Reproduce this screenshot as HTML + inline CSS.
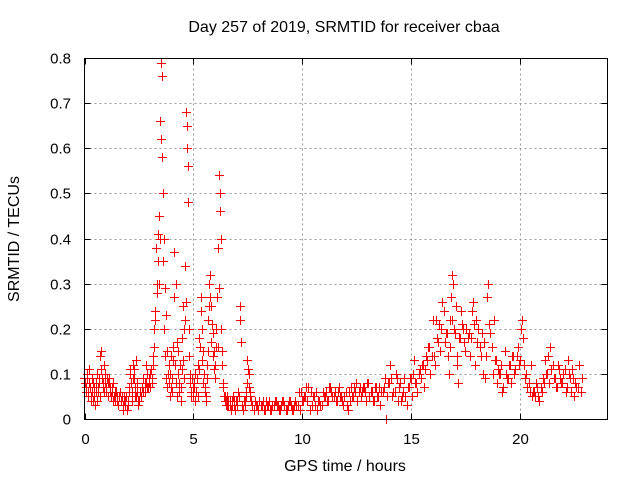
<!DOCTYPE html>
<html><head><meta charset="utf-8"><style>
body{margin:0;background:#fff;}
svg{display:block;font-family:"Liberation Sans",sans-serif;}
</style></head><body>
<svg id="chart" width="640" height="480">
<rect width="640" height="480" fill="#fff"/>
<text x="344" y="32" font-size="16" text-anchor="middle">Day 257 of 2019, SRMTID for receiver cbaa</text>
<text x="345" y="471" font-size="16" text-anchor="middle">GPS time / hours</text>
<text transform="translate(19,239) rotate(-90)" font-size="16" text-anchor="middle">SRMTID / TECUs</text>
<g id="grid" shape-rendering="crispEdges"></g>
<g id="ticks"></g>
<g id="points" shape-rendering="crispEdges"></g>
<rect x="84.5" y="58.5" width="523" height="361" fill="none" stroke="#000" stroke-width="1" shape-rendering="crispEdges"/>
</svg>
<script>
const xTicks=[0,5,10,15,20];
const yTicks=[0,0.1,0.2,0.3,0.4,0.5,0.6,0.7,0.8];
const yTickLabels=["0","0.1","0.2","0.3","0.4","0.5","0.6","0.7","0.8"];
const times=[0,.05,.1,.15,.2,.25,.3,.35,.4,.45,.5,.55,.6,.65,.7,.75,.8,.85,.9,.95,
1,1.05,1.1,1.15,1.2,1.3,1.35,1.4,1.5,1.55,1.6,1.7,1.8,1.85,1.9,2,
2.05,2.1,2.15,2.2,2.25,2.3,2.35,2.4,2.45,2.5,2.6,2.65,2.7,2.8,2.85,2.9,3,
3.05,3.1,3.15,3.2,3.25,3.3,3.35,3.4,3.45,3.5,3.52,3.55,3.57,3.6,3.62,3.65,3.7,3.75,3.8,3.85,3.9,3.95,4,
4.05,4.1,4.15,4.2,4.25,4.3,4.35,4.4,4.45,4.5,4.55,4.6,4.65,4.7,4.72,4.74,4.76,4.78,4.8,4.85,4.9,4.95,
5,5.05,5.1,5.15,5.2,5.25,5.3,5.35,5.4,5.45,5.5,5.55,5.6,5.65,5.7,5.75,5.8,5.85,5.9,5.95,
6,6.05,6.1,6.15,6.2,6.22,6.25,6.28,6.3,6.35,6.4,6.45,6.5,6.55,6.6,6.7,6.8,6.9,7,
7.1,7.15,7.18,7.2,7.25,7.3,7.4,7.45,7.5,7.55,7.6,7.7,7.8,7.9,8,
8.1,8.2,8.3,8.4,8.5,8.6,8.7,8.8,8.9,9,9.1,9.2,9.3,9.4,9.5,9.6,9.7,9.8,9.9,10,
10.1,10.2,10.3,10.4,10.5,10.6,10.7,10.8,10.9,11,11.1,11.2,11.3,11.4,11.5,11.6,11.7,11.8,11.9,12,
12.1,12.2,12.3,12.4,12.5,12.6,12.7,12.8,12.9,13,13.1,13.2,13.3,13.4,13.5,13.6,13.7,13.8,13.85,13.9,14,
14.05,14.1,14.2,14.3,14.4,14.5,14.6,14.7,14.8,14.9,15,
15.1,15.15,15.2,15.3,15.4,15.5,15.6,15.7,15.8,15.9,16,
16.05,16.1,16.2,16.3,16.35,16.4,16.5,16.55,16.6,16.7,16.75,16.8,16.85,16.9,16.95,17,
17.05,17.1,17.15,17.2,17.3,17.4,17.5,17.6,17.7,17.8,17.85,17.9,18,
18.05,18.1,18.2,18.3,18.4,18.5,18.55,18.6,18.7,18.8,18.9,19,
19.1,19.2,19.3,19.4,19.5,19.6,19.7,19.8,19.9,20,
20.05,20.1,20.15,20.2,20.3,20.4,20.5,20.6,20.7,20.8,20.9,21,
21.1,21.2,21.3,21.4,21.5,21.6,21.7,21.8,21.9,22,
22.1,22.2,22.3,22.4,22.5,22.6,22.7,22.8,22.85];
const srmtid=[.09,.08,.07,.10,.06,.11,.05,.09,.04,.07,.03,.08,.10,.06,.09,.14,.15,.08,.06,.10,
.07,.09,.05,.08,.06,.07,.04,.06,.05,.03,.05,.04,.02,.05,.04,.03,
.06,.11,.08,.04,.12,.09,.05,.13,.06,.04,.05,.07,.06,.08,.12,.07,.08,
.10,.09,.14,.20,.24,.38,.30,.41,.45,.66,.62,.79,.76,.58,.50,.40,.29,.23,.15,.10,.12,.05,.14,
.09,.13,.37,.30,.17,.10,.06,.12,.04,.18,.25,.20,.34,.68,.65,.60,.56,.48,.20,.08,.06,.09,
.05,.07,.10,.06,.09,.12,.18,.27,.20,.15,.10,.07,.05,.12,.22,.30,.32,.25,.19,.15,
.12,.16,.27,.38,.54,.50,.46,.40,.20,.15,.07,.05,.04,.03,.04,.03,.04,.03,.03,
.05,.25,.22,.17,.03,.02,.04,.06,.13,.10,.06,.03,.02,.03,.02,
.03,.04,.02,.03,.04,.02,.03,.04,.03,.02,.04,.03,.02,.04,.03,.02,.04,.03,.02,.04,
.05,.07,.07,.06,.05,.03,.02,.04,.03,.05,.06,.04,.07,.05,.06,.04,.07,.05,.03,.06,
.02,.04,.05,.07,.08,.06,.05,.07,.06,.08,.05,.06,.04,.07,.05,.03,.06,.09,.00,.05,.08,
.12,.09,.06,.10,.04,.08,.05,.09,.03,.07,.09,
.10,.13,.08,.06,.11,.12,.07,.14,.16,.10,.22,
.14,.12,.18,.21,.15,.20,.24,.17,.19,.14,.10,.22,.27,.32,.30,.20,
.25,.12,.08,.18,.24,.20,.15,.18,.14,.24,.26,.21,.22,
.17,.20,.14,.10,.09,.27,.30,.21,.16,.22,.13,.11,
.10,.06,.15,.09,.12,.08,.14,.11,.16,.13,
.20,.22,.18,.12,.10,.08,.12,.06,.05,.07,.04,.06,
.08,.10,.14,.16,.12,.09,.07,.11,.08,.10,
.06,.13,.09,.11,.05,.07,.12,.06,.09];
const times2=[.03,.08,.13,.18,.23,.28,.33,.38,.43,.48,.53,.58,.63,.68,.73,.78,.83,.88,.93,.98,
1.03,1.08,1.13,1.18,1.23,1.28,1.33,1.38,1.43,1.48,1.53,1.58,1.63,1.68,1.73,1.78,1.83,1.88,1.93,1.98,
2.03,2.08,2.13,2.18,2.23,2.28,2.33,2.38,2.43,2.48,2.53,2.58,2.63,2.68,2.73,2.78,2.83,2.88,2.93,2.98,
3.03,3.08,3.13,3.18,3.23,3.28,3.33,3.38,3.43,3.48,3.63,3.68,3.73,3.78,3.83,3.88,3.93,3.98,
4.03,4.08,4.13,4.18,4.23,4.28,4.33,4.38,4.43,4.48,4.53,4.58,4.63,4.68,4.83,4.88,4.93,4.98,
5.03,5.08,5.13,5.18,5.23,5.28,5.33,5.38,5.43,5.48,5.53,5.58,5.63,5.68,5.73,5.78,5.83,5.88,5.93,5.98,
6.03,6.08,6.13,6.18,6.33,6.38,6.43,6.48,6.53,6.58,6.63,6.68,6.73,6.78,6.83,6.88,6.93,6.98,
7.03,7.08,7.33,7.38,7.43,7.48,7.53,7.58,7.63,7.68,7.73,7.78,7.83,7.88,7.93,7.98,
8.05,8.15,8.25,8.35,8.45,8.55,8.65,8.75,8.85,8.95,9.05,9.15,9.25,9.35,9.45,9.55,9.65,9.75,9.85,9.95,
10.05,10.15,10.25,10.35,10.45,10.55,10.65,10.75,10.85,10.95,11.05,11.15,11.25,11.35,11.45,11.55,11.65,11.75,11.85,11.95,
12.05,12.15,12.25,12.35,12.45,12.55,12.65,12.75,12.85,12.95,13.05,13.15,13.25,13.35,13.45,13.55,13.65,13.75,13.95,
14.15,14.25,14.35,14.45,14.55,14.65,14.75,14.85,14.95,
15.05,15.25,15.35,15.45,15.55,15.65,15.75,15.85,15.95,
16.15,16.25,16.45,16.65,16.78,16.88,17.02,17.13,17.25,17.35,17.45,17.55,17.65,17.75,17.95,
18.15,18.25,18.35,18.45,18.65,18.75,18.85,18.95,
19.05,19.15,19.25,19.35,19.45,19.55,19.65,19.75,19.85,19.95,
20.25,20.35,20.45,20.55,20.65,20.75,20.85,20.95,
21.05,21.15,21.25,21.35,21.45,21.55,21.65,21.75,21.85,21.95,
22.05,22.15,22.25,22.35,22.45,22.55,22.65,22.75,22.8];
const srmtid2=[.08,.06,.09,.05,.08,.07,.04,.06,.08,.05,.06,.04,.07,.08,.05,.11,.09,.07,.12,.08,
.06,.08,.09,.07,.05,.06,.08,.05,.04,.06,.04,.03,.06,.04,.05,.03,.04,.03,.05,.02,
.04,.07,.10,.06,.09,.11,.07,.05,.08,.03,.04,.06,.05,.07,.09,.06,.08,.10,.07,.09,
.07,.11,.08,.12,.16,.22,.28,.35,.30,.40,.35,.20,.14,.09,.07,.08,.10,.07,
.06,.16,.27,.12,.08,.05,.15,.08,.07,.11,.13,.09,.22,.26,.14,.10,.05,.07,
.08,.04,.06,.09,.05,.11,.16,.24,.13,.08,.06,.04,.09,.15,.25,.27,.17,.21,.14,.11,
.09,.20,.16,.29,.12,.08,.05,.04,.03,.05,.03,.04,.02,.03,.05,.04,.02,.04,
.04,.06,.04,.03,.05,.08,.11,.07,.05,.04,.03,.02,.04,.03,
.03,.02,.04,.03,.02,.04,.03,.02,.03,.04,.03,.02,.03,.04,.02,.03,.04,.02,.03,.03,
.06,.06,.04,.05,.04,.02,.03,.05,.06,.04,.03,.06,.05,.04,.07,.06,.05,.04,.06,.05,
.04,.05,.03,.06,.07,.05,.06,.04,.07,.06,.07,.04,.08,.06,.04,.07,.05,.07,.06,
.07,.08,.05,.06,.09,.07,.04,.06,.05,
.07,.09,.05,.08,.10,.09,.12,.11,.13,
.16,.14,.22,.17,.26,.19,.16,.22,.19,.14,.18,.21,.17,.20,.19,
.18,.12,.16,.19,.17,.14,.19,.10,
.13,.08,.10,.12,.07,.10,.09,.12,.14,.10,
.14,.12,.09,.07,.06,.05,.06,.08,
.05,.07,.09,.13,.10,.08,.11,.09,.07,.12,
.09,.08,.11,.07,.10,.06,.09,.08,.07];
const NS="http://www.w3.org/2000/svg";
const X0=84.5,X1=607.5,Y0=419.5,Y1=58.5;
function xs(t){return X0+(t/24)*(X1-X0);}
function ys(v){return Y0-(v/0.8)*(Y0-Y1);}
const grid=document.getElementById('grid'),ticks=document.getElementById('ticks'),pts=document.getElementById('points');
function mk(tag,attrs,parent){const e=document.createElementNS(NS,tag);for(const k in attrs)e.setAttribute(k,attrs[k]);parent.appendChild(e);return e;}
xTicks.forEach(t=>{const x=Math.round(xs(t))+0.5;
 if(t>0){const g=mk('line',{x1:x,x2:x,y1:Y1,y2:Y0,stroke:'#999','stroke-dasharray':'2,3'},grid);
 
 }
 const tk=mk('path',{d:`M${x},${Y0}v-6M${x},${Y1}v6`,stroke:'#000','shape-rendering':'crispEdges'},ticks);
 
 
 const l=mk('text',{x:x,y:444,'font-size':15,'text-anchor':'middle'},ticks);l.textContent=t;
 
 });
yTicks.forEach((v,i)=>{const y=Math.round(ys(v)-0.5)+0.5;
 if(v>0&&v<0.8){const g=mk('line',{x1:X0,x2:X1,y1:y,y2:y,stroke:'#999','stroke-dasharray':'2,3'},grid);
 
 }
 const tk=mk('path',{d:`M${X0},${y}h6M${X1},${y}h-6`,stroke:'#000','shape-rendering':'crispEdges'},ticks);
 
 
 const l=mk('text',{x:71,y:y+5,'font-size':15,'text-anchor':'end'},ticks);l.textContent=yTickLabels[i];
 
 });
function plus(ts,vs){let d='';ts.forEach((t,i)=>{const x=Math.floor(xs(t)),y=Math.floor(ys(vs[i]));d+=`M${x-4},${y}h9v1h-9zM${x},${y-4}h1v9h-1z`;});return d;}
const p=mk('path',{d:plus(times,srmtid)+plus(times2,srmtid2),fill:'#ff0000',stroke:'none'},pts);


</script>
</body></html>
